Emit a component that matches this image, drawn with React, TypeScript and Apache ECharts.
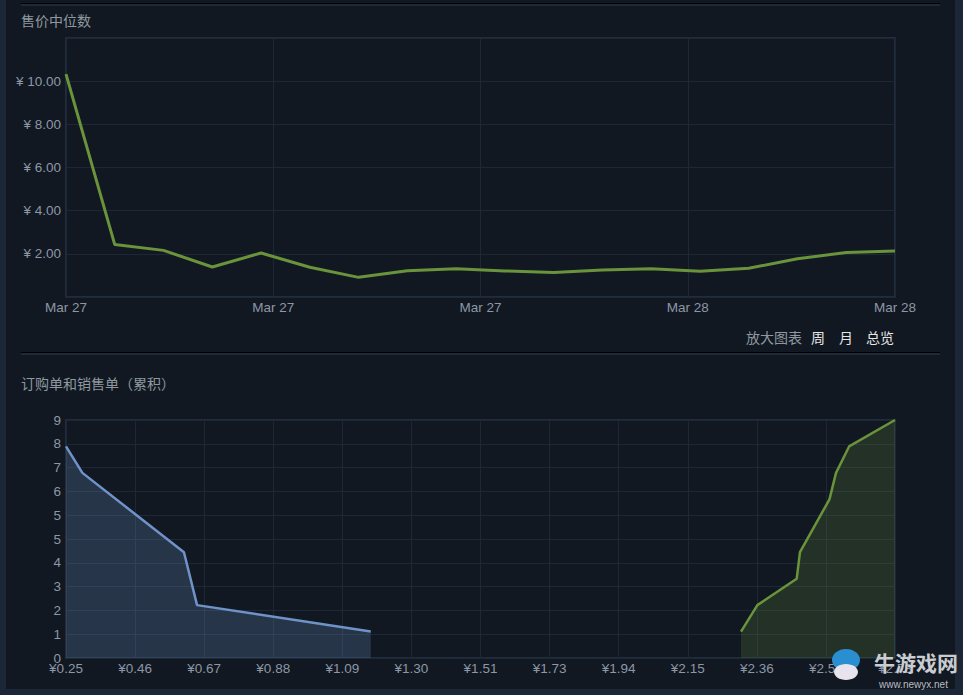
import React, { useEffect, useRef } from "react";
import * as echarts from "echarts";

// ---- data ----
const dateTicks = ["Mar 27", "Mar 27", "Mar 27", "Mar 28", "Mar 28"];
const medianPrices = [10.33, 2.43, 2.16, 1.39, 2.04, 1.38, 0.91, 1.22, 1.31, 1.21, 1.14, 1.25, 1.31, 1.19, 1.33, 1.77, 2.06, 2.13];

const priceTicks = ["¥0.25", "¥0.46", "¥0.67", "¥0.88", "¥1.09", "¥1.30", "¥1.51", "¥1.73", "¥1.94", "¥2.15", "¥2.36", "¥2.57", "¥2.78"];
const priceMin = 0.25;
const priceMax = 2.78;

const buyPrices = [0.25, 0.30, 0.61, 0.65, 1.18];
const buyQty = [8, 7, 4, 2, 1];
const sellPrices = [2.31, 2.36, 2.48, 2.49, 2.58, 2.60, 2.64, 2.78];
const sellQty = [1, 2, 3, 4, 6, 7, 8, 9];

const FONT = "Arial, 'Liberation Sans', sans-serif";
const CJK = "'Noto Sans CJK SC', sans-serif";
const LABEL = "#8d97a6";
const SPLIT = "#1c2836";
const BORDER = "#1f2d3d";
const GREEN = "#6a933c";
const BLUE = "#6f93c9";
const PANEL = "#111821";
const OUTER = "#1b2636";
const LFS = 13.5;

export default function App() {
  const ref = useRef<HTMLDivElement>(null);
  useEffect(() => {
    if (!ref.current) return;
    const chart = echarts.init(ref.current, null, { renderer: "svg" });
    const nDates = medianPrices.length - 1;
    const dateInterval = nDates / (dateTicks.length - 1);
    const option: any = {
      animation: false,
      backgroundColor: PANEL,
      textStyle: { fontFamily: FONT },
      grid: [
        { left: 66, top: 38, width: 829, height: 259, show: true, borderColor: BORDER, borderWidth: 2, containLabel: false },
        { left: 66, top: 420, width: 829, height: 238, show: true, borderColor: BORDER, borderWidth: 2, containLabel: false },
      ],
      xAxis: [
        {
          gridIndex: 0,
          type: "value",
          min: 0,
          max: nDates,
          interval: dateInterval,
          axisLine: { show: false },
          axisTick: { show: false },
          splitLine: { show: true, lineStyle: { color: SPLIT, width: 1 } },
          axisLabel: {
            color: LABEL,
            fontSize: LFS,
            fontFamily: FONT,
            margin: 3,
            showMinLabel: true,
            showMaxLabel: true,
            formatter: (v: number) => dateTicks[Math.round(v / dateInterval)] ?? "",
          },
        },
        {
          gridIndex: 1,
          type: "value",
          min: priceMin,
          max: priceMax,
          show: false,
          splitLine: { show: false },
        },
        {
          gridIndex: 1,
          type: "value",
          min: 0,
          max: priceTicks.length - 1,
          interval: 1,
          position: "bottom",
          axisLine: { show: false },
          axisTick: { show: false },
          splitLine: { show: true, lineStyle: { color: SPLIT, width: 1 } },
          axisLabel: {
            color: LABEL,
            fontSize: LFS,
            fontFamily: FONT,
            margin: 3,
            showMinLabel: true,
            showMaxLabel: true,
            formatter: (v: number) => priceTicks[Math.round(v)] ?? "",
          },
        },
      ],
      yAxis: [
        {
          gridIndex: 0,
          type: "value",
          min: 0,
          max: 12,
          interval: 2,
          axisLine: { show: false },
          axisTick: { show: false },
          splitLine: { show: true, lineStyle: { color: SPLIT, width: 1 } },
          axisLabel: {
            color: LABEL,
            fontSize: LFS,
            fontFamily: FONT,
            margin: 5,
            formatter: (v: number) => (v > 0 && v < 12 ? "¥ " + v.toFixed(2) : ""),
          },
        },
        {
          gridIndex: 1,
          type: "value",
          min: 0,
          max: 9,
          interval: 0.9,
          axisLine: { show: false },
          axisTick: { show: false },
          splitLine: { show: true, lineStyle: { color: SPLIT, width: 1 } },
          axisLabel: {
            color: LABEL,
            fontSize: LFS,
            fontFamily: FONT,
            margin: 5,
            showMinLabel: true,
            showMaxLabel: true,
            formatter: (v: number) => String(Math.round(v)),
          },
        },
      ],
      series: [
        {
          type: "line",
          xAxisIndex: 0,
          yAxisIndex: 0,
          data: medianPrices.map((v, i) => [i, v]),
          showSymbol: false,
          symbol: "none",
          lineStyle: { color: GREEN, width: 3 },
          z: 5,
        },
        {
          type: "line",
          xAxisIndex: 1,
          yAxisIndex: 1,
          data: buyPrices.map((p, i) => [p, buyQty[i]]),
          symbol: "none",
          lineStyle: { color: BLUE, width: 2.5 },
          areaStyle: { color: "rgba(111,147,201,0.34)", origin: "start" },
          z: 5,
        },
        {
          type: "line",
          xAxisIndex: 1,
          yAxisIndex: 1,
          data: sellPrices.map((p, i) => [p, sellQty[i]]),
          symbol: "none",
          lineStyle: { color: GREEN, width: 2.5 },
          areaStyle: { color: "rgba(106,147,60,0.3)", origin: "start" },
          z: 5,
        },
      ],
      graphic: [
        // outer strips
        { type: "rect", shape: { x: 0, y: 0, width: 6, height: 695 }, style: { fill: OUTER }, silent: true },
        { type: "rect", shape: { x: 955, y: 0, width: 8, height: 695 }, style: { fill: OUTER }, silent: true },
        { type: "rect", shape: { x: 0, y: 689, width: 963, height: 6 }, style: { fill: OUTER }, silent: true },
        // separators
        { type: "rect", shape: { x: 21, y: 3, width: 919, height: 1 }, style: { fill: "#000000" }, silent: true },
        { type: "rect", shape: { x: 21, y: 4, width: 919, height: 2 }, style: { fill: "#1f2a39" }, silent: true },
        { type: "rect", shape: { x: 21, y: 352, width: 919, height: 1 }, style: { fill: "#000000" }, silent: true },
        { type: "rect", shape: { x: 21, y: 353, width: 919, height: 2 }, style: { fill: "#1f2a39" }, silent: true },
        // titles
        { type: "text", x: 21, y: 20, style: { text: "售价中位数", fill: "#8f98a0", font: `14px ${CJK}`, textVerticalAlign: "middle" } },
        { type: "text", x: 21, y: 383, style: { text: "订购单和销售单（累积）", fill: "#8f98a0", font: `14px ${CJK}`, textVerticalAlign: "middle" } },
        { type: "text", x: 746, y: 337, style: { text: "放大图表", fill: "#8f98a0", font: `14px ${CJK}`, textVerticalAlign: "middle" } },
        { type: "text", x: 811, y: 337, style: { text: "周", fill: "#e6e6e6", font: `14px ${CJK}`, textVerticalAlign: "middle" } },
        { type: "text", x: 839, y: 337, style: { text: "月", fill: "#e6e6e6", font: `14px ${CJK}`, textVerticalAlign: "middle" } },
        { type: "text", x: 866, y: 337, style: { text: "总览", fill: "#e6e6e6", font: `14px ${CJK}`, textVerticalAlign: "middle" } },
        // watermark
        { type: "ellipse", shape: { cx: 846, cy: 660, rx: 14, ry: 11 }, style: { fill: "#2a8fd0" }, z: 20 },
        { type: "ellipse", shape: { cx: 846, cy: 672, rx: 12, ry: 8 }, style: { fill: "#e8e4ee" }, z: 21 },
        { type: "text", x: 874, y: 662, z: 20, style: { text: "牛游戏网", fill: "#c9ccd0", font: `bold 21px ${CJK}`, textVerticalAlign: "middle" } },
        { type: "text", x: 879, y: 684, z: 20, style: { text: "www.newyx.net", fill: "#b8bcc2", font: `10px ${FONT}`, textVerticalAlign: "middle" } },
      ],
    };
    chart.setOption(option);
    return () => chart.dispose();
  }, []);
  return (
    <div
      ref={ref}
      style={{ position: "fixed", left: 0, top: 0, width: 963, height: 695 }}
    />
  );
}
